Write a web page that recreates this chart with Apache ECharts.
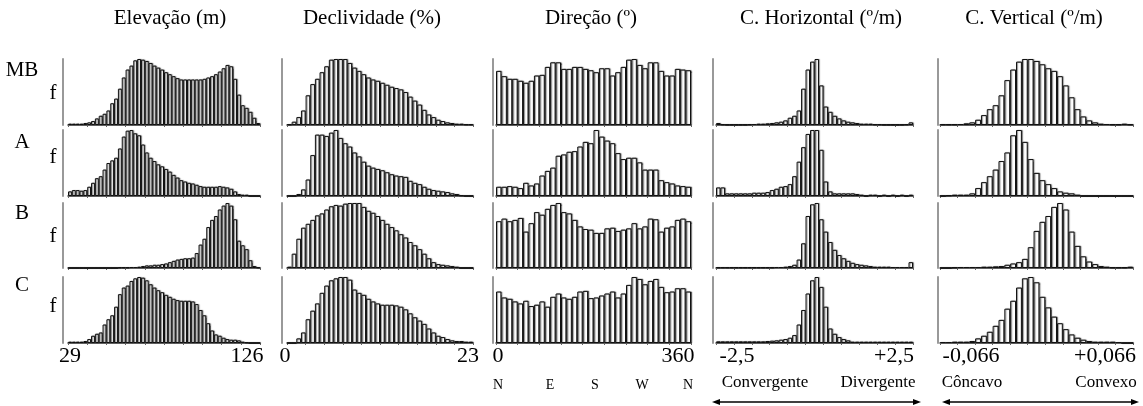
<!DOCTYPE html>
<html>
<head>
<meta charset="utf-8">
<script src="https://cdn.jsdelivr.net/npm/echarts@6/dist/echarts.min.js"></script>
<style>
  html, body { margin: 0; padding: 0; background: #fff; }
  #chart { width: 1143px; height: 406px; }
</style>
</head>
<body>
<div id="chart"></div>
<script>
// column / row texts
const colTitles = ['Elevação (m)', 'Declividade (%)', 'Direção (º)', 'C. Horizontal (º/m)', 'C. Vertical (º/m)'];
const rowLabels = ['MB', 'A', 'B', 'C'];
const minLabels = ['29', '0', '0', '-2,5', '-0,066'];
const maxLabels = ['126', '23', '360', '+2,5', '+0,066'];
const compass = ['N', 'E', 'S', 'W', 'N'];
const colRanges = [[29, 126], [0, 23], [0, 360], [-2.5, 2.5], [-0.066, 0.066]];

// relative frequency (% of panel max) per bin
const elevMB = [2,2,2,2,3,4,6,10,14,17, 22,33,40,55,72,84,90,98,100,99, 97,94,90,87,84,80,77,74,71,69, 69,69,69,69,69,70,72,74,77,81, 86,91,89,70,46,30,26,20,11,3];
const elevA  = [7,9,9,8,9,14,20,27,30,40, 50,54,58,72,90,99,100,95,92,78, 66,58,53,48,45,41,37,32,28,24, 22,20,19,17,15,14,14,14,14,15, 14,13,11,7,3,2,2,0,0,0];
const elevB  = [0,0,0,0,0,0,0,0,0,0, 0,0,0,1,1,1,1.5,1.5,2,3, 4,4,5,5,6,7,9,11,13,14, 15,15,16,23,36,45,63,74,80,90, 96,100,96,75,42,35,29,12,3,1];
const elevC  = [2,2,2,2,3,6,11,14,16,28, 36,42,55,74,84,87,94,98,100,99, 95,89,84,80,77,73,70,67,65,64, 64,64,63,59,50,42,30,19,13,11, 8,6,5,5,4,2,1,0,0,0];

const declMB = [1,5,12,22,45,62,70,80,89,99, 100,100,100,94,87,82,77,72,69,67, 64,61,58,56,54,50,43,37,31,23, 16,12,8,6,4,3,2,2,1,1];
const declA  = [0,0,3,10,25,62,93,93,91,96, 100,88,80,75,66,60,52,46,43,41, 39,36,33,31,30,29,23,20,18,14, 11,9,8,7,6,4,3,1,0,0];
const declB  = [2,22,45,62,68,74,81,84,90,95, 97,96,99,100,100,100,94,88,85,80, 74,68,63,58,52,47,40,35,29,22, 15,9,6,5,4,3,2,0,0,0];
const declC  = [0,0,7,16,36,49,60,76,87,95, 98,100,100,96,81,76,73,67,63,60, 58,58,58,57,55,51,45,39,34,29, 22,16,11,9,6,4,3,3,2,2];

const dirMB = [82,74,70,70,67,64,67,75,76,88, 95,95,85,85,88,88,85,83,80,86, 86,75,80,88,99,100,91,86,95,95, 82,75,75,85,84,83];
const dirA  = [14,14,15,14,12,20,16,19,31,38, 43,61,63,67,68,75,82,80,100,90, 84,80,65,56,58,58,51,40,40,40, 24,21,19,16,15,14];
const dirB  = [72,76,72,74,77,56,69,86,82,91, 97,100,86,84,74,64,60,59,54,54, 61,62,57,59,61,69,61,64,76,75, 56,62,64,74,76,72];
const dirC  = [78,69,67,63,60,64,56,58,63,55, 70,75,69,67,70,78,79,68,69,72, 75,78,69,75,88,100,97,89,94,97, 85,77,78,83,83,78];

const chMB = [3,1,0.5,0.5,0.5,0.5,0.5,1,1.5,2, 2,2.5,3,4,5,7,11,14,22,55, 84,96,100,60,28,20,14,10,7,5, 4,3,2,2,2,1,1,0.5,0.5,0.5, 0.5,0.5,1,4];
const chA  = [13,13,4,4,4,4,4,4,5,5, 5,6,9,11,14,15,18,30,52,74, 94,100,100,70,22,7,4,4,4,4, 4,3,2,0,2,2,0,2,0,2, 0,2,0,2];
const chB  = [1,1,1,1,1,1,1,1,1,1, 1,1,1,1.5,1.5,2,3,5,13,38, 80,98,100,75,56,40,28,20,15,11, 8,6,5,4,3,2,2,2,2,1.5, 1.5,1.5,1.5,9];
const chC  = [2.5,2.5,2.5,2.5,2.5,2.5,2.5,2.5,2.5,2.5, 2.5,3,3.5,4,5,6,8,12,28,50, 75,95,100,85,55,22,14,9,6,4, 2,2,2,2,2,2,2,2,2,2, 2,2,2,2];

const cvMB = [1,1,1,1.5,2.5,4,8,15,24,30, 45,68,84,96,100,100,97,92,86,82, 74,60,42,24,13,7,4,2,1.5,1, 1,2,1];
const cvA  = [0,1,2,2,2,4,12,21,30,40, 53,66,92,100,82,56,35,24,18,12, 7,5,4,2,0,0,0,0,0,0, 0,0,0];
const cvB  = [0,0,1,1.5,1.5,1.5,1.5,2,2,2.5, 3,5,7,9,14,32,57,71,80,94, 100,90,56,34,18,10,6,3,2,1, 1,1,2];
const cvC  = [1.5,1.5,2,2,2,3,7,11,17,26, 35,52,64,84,98,100,92,70,54,40, 30,21,13,8,5,3,2,2,2,2, 1.5,0,0];

const panels = [
  [elevMB, declMB, dirMB, chMB, cvMB],
  [elevA, declA, dirA, chA, cvA],
  [elevB, declB, dirB, chB, cvB],
  [elevC, declC, dirC, chC, cvC]
];

// layout (px)
const colLeft = [68, 287, 496, 716, 940];
const colWidth = [192, 186, 195, 197, 193];
const axisOffset = [5, 5, 3, 3, 2];
const tickEvery = [4, 3, 3, 3, 2];
const rowTop = [59, 130, 203, 277];
const rowHeight = [66, 66, 65, 66];
const serif = '"Liberation Serif", "Times New Roman", serif';

function binCenters(range, n) {
  let step = (range[1] - range[0]) / n;
  let out = [];
  for (let k = 0; k < n; k++) out.push((range[0] + step * (k + 0.5)).toFixed(4));
  return out;
}

function label(text, x, y, size) {
  return {
    type: 'text', x: x, y: y, silent: true,
    style: { text: text, font: size + 'px ' + serif, fill: '#000', textAlign: 'center', textVerticalAlign: 'middle' }
  };
}

function arrow(x1, x2, y) {
  return [
    { type: 'line', silent: true, shape: { x1: x1 + 4, y1: y, x2: x2 - 4, y2: y }, style: { stroke: '#000', lineWidth: 1.3 } },
    { type: 'polygon', silent: true, shape: { points: [[x1, y], [x1 + 8, y - 3], [x1 + 8, y + 3]] }, style: { fill: '#000' } },
    { type: 'polygon', silent: true, shape: { points: [[x2, y], [x2 - 8, y - 3], [x2 - 8, y + 3]] }, style: { fill: '#000' } }
  ];
}

let grid = [], xAxis = [], yAxis = [], series = [];
panels.forEach(function (row, r) {
  row.forEach(function (values, c) {
    let idx = grid.length;
    grid.push({ left: colLeft[c], top: rowTop[r], width: colWidth[c], height: rowHeight[r] });
    xAxis.push({
      type: 'category', gridIndex: idx,
      data: binCenters(colRanges[c], values.length),
      axisLine: { show: true, onZero: false, lineStyle: { color: '#333', width: 1.5 } },
      axisTick: { show: true, length: 2, interval: tickEvery[c], lineStyle: { color: '#666' } },
      axisLabel: { show: false },
      splitLine: { show: false }
    });
    yAxis.push({
      type: 'value', gridIndex: idx, min: 0, max: 100, offset: axisOffset[c],
      axisLine: { show: true, lineStyle: { color: '#999', width: 2 } },
      axisTick: { show: false },
      axisLabel: { show: false },
      splitLine: { show: false }
    });
    series.push({
      type: 'bar', xAxisIndex: idx, yAxisIndex: idx,
      data: values,
      barCategoryGap: '0%',
      silent: true,
      // white bars, dark outline with a grey edge on the right like the scanned figure
      itemStyle: {
        color: '#fff', borderColor: '#111', borderWidth: 1,
        shadowColor: 'rgba(0,0,0,0.45)', shadowOffsetX: 1, shadowOffsetY: 0, shadowBlur: 1
      }
    });
  });
});

let texts = [];
const titleX = [170, 372, 591, 821, 1034];
colTitles.forEach(function (t, c) { texts.push(label(t, titleX[c], 18, 21)); });
const rowLabelY = [70, 142, 213, 285];
const fY = [93, 157, 236, 306];
rowLabels.forEach(function (t, r) {
  texts.push(label(t, 22, rowLabelY[r], 21));
  texts.push(label('f', 53, fY[r], 21));
});
const minX = [70, 285, 498, 737, 971];
const maxX = [247, 468, 678, 894, 1105];
minLabels.forEach(function (t, c) { texts.push(label(t, minX[c], 356, 22)); });
maxLabels.forEach(function (t, c) { texts.push(label(t, maxX[c], 356, 22)); });
const compassX = [498, 550, 595, 642, 688];
compass.forEach(function (t, k) { texts.push(label(t, compassX[k], 385, 14)); });
texts.push(label('Convergente', 765, 383, 17));
texts.push(label('Divergente', 878, 383, 17));
texts.push(label('Côncavo', 972, 383, 17));
texts.push(label('Convexo', 1106, 383, 17));
texts = texts.concat(arrow(712, 921, 402), arrow(942, 1139, 402));

let chart = echarts.init(document.getElementById('chart'));
chart.setOption({
  animation: false,
  backgroundColor: '#fff',
  grid: grid,
  xAxis: xAxis,
  yAxis: yAxis,
  series: series,
  graphic: { elements: texts }
});
</script>
</body>
</html>
